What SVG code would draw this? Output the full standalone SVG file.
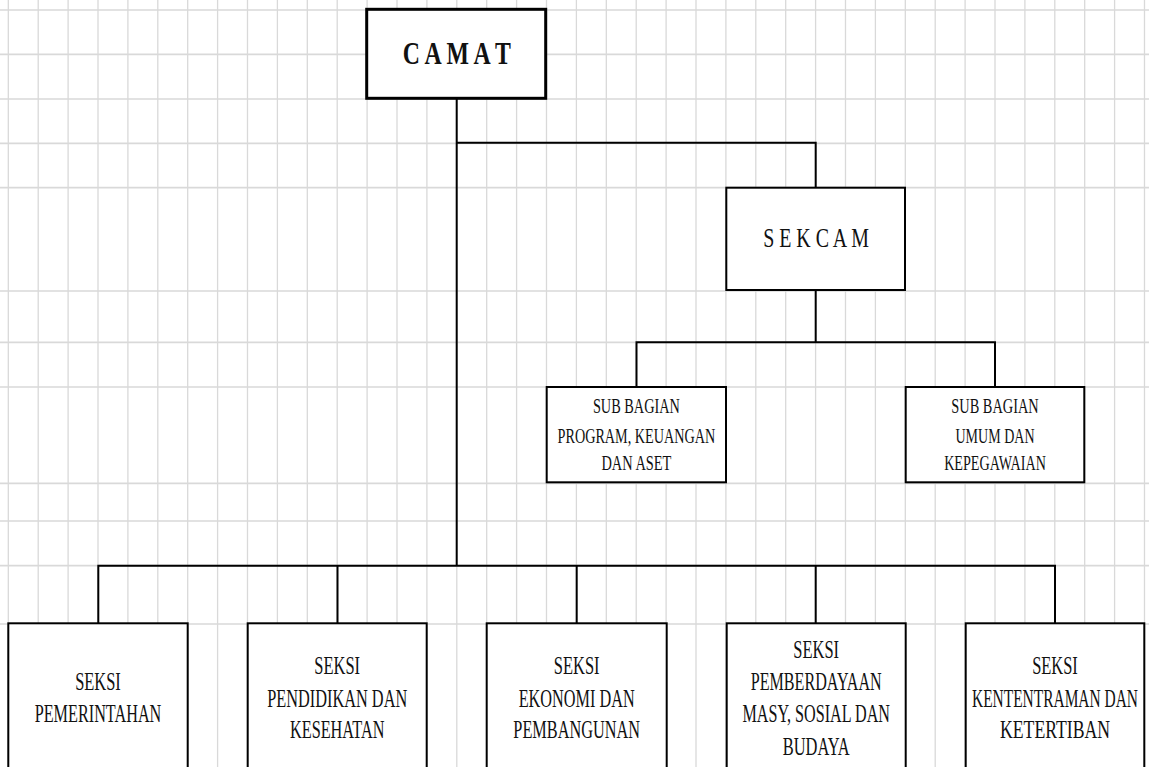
<svg xmlns="http://www.w3.org/2000/svg" width="1149" height="767" viewBox="0 0 1149 767">
<style>
.grid{stroke:#d9d9d9;fill:none}
.conn{stroke:#000;stroke-width:2;fill:none}
.box{fill:#fff;stroke:#000;stroke-width:2}
.t{font-family:"Liberation Serif","Times New Roman",serif;fill:#111;text-anchor:middle}
.s{font-size:26px}
.sb{font-size:22px}
</style>
<rect width="1149" height="767" fill="#fff"/>
<g id="grid">
<path class="grid" stroke-width="1.3" d="M8.3 0V767M38.2 0V767M68.1 0V767M98 0V767M127.9 0V767M157.8 0V767M187.7 0V767M217.6 0V767M247.5 0V767M277.4 0V767M307.3 0V767M337.2 0V767M367.1 0V767M397 0V767M426.9 0V767M456.8 0V767M486.7 0V767M516.6 0V767M546.5 0V767M576.4 0V767M606.3 0V767M636.2 0V767M666.1 0V767M696 0V767M725.9 0V767M755.8 0V767M785.7 0V767M815.6 0V767M845.5 0V767M875.4 0V767M905.3 0V767M935.2 0V767M965.1 0V767M995 0V767M1024.9 0V767M1054.8 0V767M1084.7 0V767M1114.6 0V767M1144.5 0V767"/>
<path class="grid" stroke-width="1.7" d="M0 10H1149M0 54.3H1149M0 99H1149M0 143.3H1149M0 187.7H1149M0 291H1149M0 342.3H1149M0 387H1149M0 483.3H1149M0 521H1149M0 565.7H1149M0 624H1149"/>
</g>
<g id="connectors">
<path class="conn" d="M456.7 98V565.7"/>
<path class="conn" d="M456.7 142.7H815.7V187.7"/>
<path class="conn" d="M815.7 290V342.3"/>
<path class="conn" d="M636.5 387V342.3H995V387"/>
<path class="conn" d="M98.3 623.3V565.7H1055V623.3M337.5 565.7V623.3M576.7 565.7V623.3M815.7 565.7V623.3"/>
</g>
<g id="camat">
<rect x="366.7" y="9.3" width="179" height="89" fill="#fff" stroke="#000" stroke-width="3"/>
<text class="t" x="456.8" y="64.3" font-size="32" font-weight="bold" textLength="108" lengthAdjust="spacingAndGlyphs">C A M A T</text>
</g>
<g id="sekcam">
<rect class="box" x="726.3" y="187.7" width="178.7" height="102.3"/>
<text class="t" x="816" y="247.3" font-size="28" textLength="105.7" lengthAdjust="spacingAndGlyphs">S E K C A M</text>
</g>
<g id="subbag-program">
<rect class="box" x="546.7" y="387" width="179.3" height="95.3"/>
<text class="t sb" x="636.4" y="412.7" textLength="87" lengthAdjust="spacingAndGlyphs">SUB BAGIAN</text>
<text class="t sb" x="636.4" y="442.7" textLength="157.7" lengthAdjust="spacingAndGlyphs">PROGRAM, KEUANGAN</text>
<text class="t sb" x="636.4" y="470" textLength="70" lengthAdjust="spacingAndGlyphs">DAN ASET</text>
</g>
<g id="subbag-umum">
<rect class="box" x="905.7" y="387" width="178.6" height="95.3"/>
<text class="t sb" x="995" y="412.7" textLength="87.3" lengthAdjust="spacingAndGlyphs">SUB BAGIAN</text>
<text class="t sb" x="995" y="442.7" textLength="79" lengthAdjust="spacingAndGlyphs">UMUM DAN</text>
<text class="t sb" x="995" y="470" textLength="101.7" lengthAdjust="spacingAndGlyphs">KEPEGAWAIAN</text>
</g>
<g id="seksi-pemerintahan">
<rect class="box" x="8.3" y="623.3" width="179.4" height="150"/>
<text class="t s" x="98" y="690" textLength="45.7" lengthAdjust="spacingAndGlyphs">SEKSI</text>
<text class="t s" x="98" y="721.7" textLength="126.7" lengthAdjust="spacingAndGlyphs">PEMERINTAHAN</text>
</g>
<g id="seksi-pendidikan">
<rect class="box" x="247.7" y="623.3" width="179" height="150"/>
<text class="t s" x="337.2" y="674.3" textLength="45.7" lengthAdjust="spacingAndGlyphs">SEKSI</text>
<text class="t s" x="337.2" y="706.7" textLength="140" lengthAdjust="spacingAndGlyphs">PENDIDIKAN DAN</text>
<text class="t s" x="337.2" y="737.7" textLength="94.5" lengthAdjust="spacingAndGlyphs">KESEHATAN</text>
</g>
<g id="seksi-ekonomi">
<rect class="box" x="486.7" y="623.3" width="180" height="150"/>
<text class="t s" x="576.7" y="674.3" textLength="45.7" lengthAdjust="spacingAndGlyphs">SEKSI</text>
<text class="t s" x="576.7" y="706.7" textLength="116" lengthAdjust="spacingAndGlyphs">EKONOMI DAN</text>
<text class="t s" x="576.7" y="737.7" textLength="126.7" lengthAdjust="spacingAndGlyphs">PEMBANGUNAN</text>
</g>
<g id="seksi-pemberdayaan">
<rect class="box" x="726.7" y="623.3" width="179" height="150"/>
<text class="t s" x="816.2" y="658.3" textLength="45.7" lengthAdjust="spacingAndGlyphs">SEKSI</text>
<text class="t s" x="816.2" y="690" textLength="131" lengthAdjust="spacingAndGlyphs">PEMBERDAYAAN</text>
<text class="t s" x="816.2" y="722.3" textLength="147.6" lengthAdjust="spacingAndGlyphs">MASY, SOSIAL DAN</text>
<text class="t s" x="816.2" y="755" textLength="67" lengthAdjust="spacingAndGlyphs">BUDAYA</text>
</g>
<g id="seksi-ketentraman">
<rect class="box" x="965.7" y="623.3" width="178.6" height="150"/>
<text class="t s" x="1055" y="674.3" textLength="45.7" lengthAdjust="spacingAndGlyphs">SEKSI</text>
<text class="t s" x="1055" y="706.7" textLength="166" lengthAdjust="spacingAndGlyphs">KENTENTRAMAN DAN</text>
<text class="t s" x="1055" y="737.7" textLength="110" lengthAdjust="spacingAndGlyphs">KETERTIBAN</text>
</g>
</svg>
